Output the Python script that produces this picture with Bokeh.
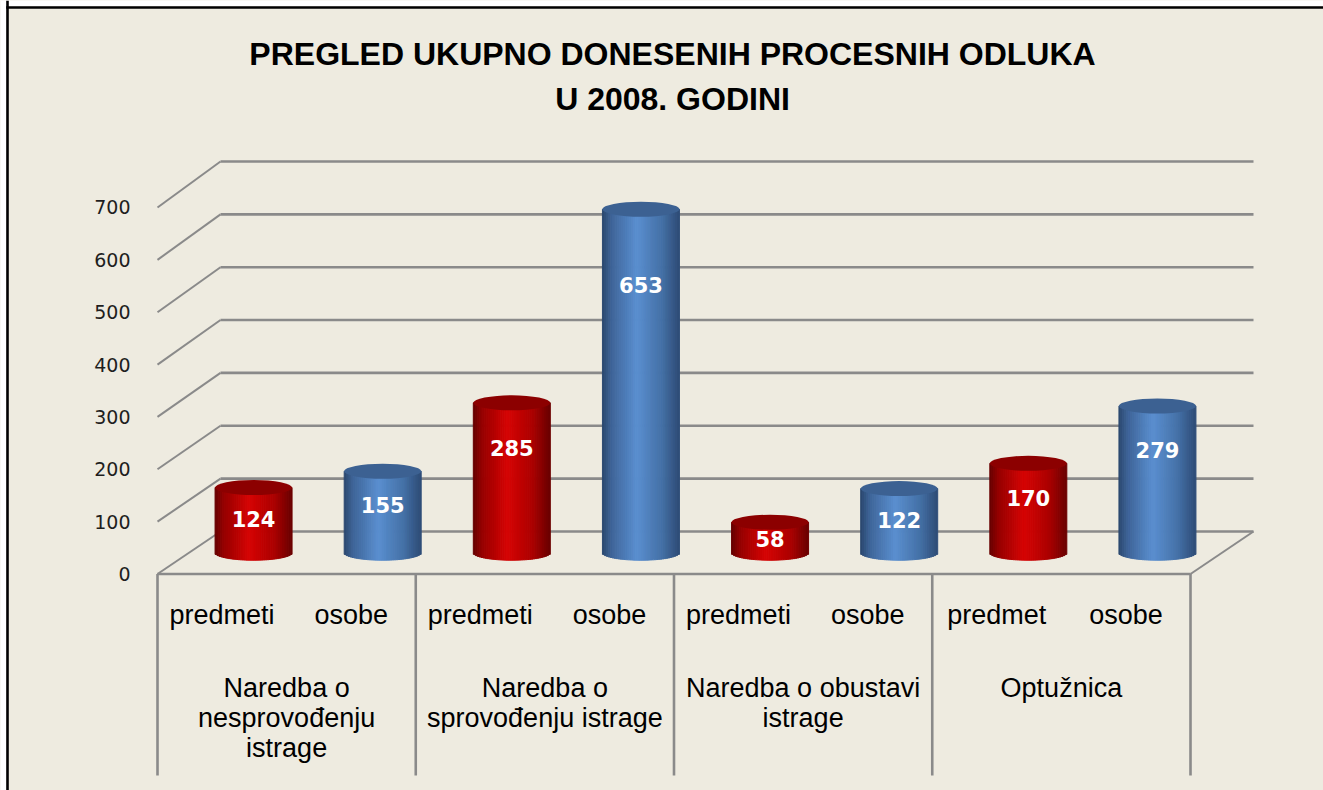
import numpy as np
from bokeh.plotting import figure
from bokeh.models import Range1d
from bokeh.core.properties import value
from bokeh.embed import file_html
from bokeh.resources import INLINE

# ---------------- data ----------------
title_lines = ["PREGLED UKUPNO DONESENIH PROCESNIH ODLUKA", "U 2008. GODINI"]
groups = ["Naredba o\nnesprovođenju\nistrage",
          "Naredba o\nsprovođenju istrage",
          "Naredba o obustavi\nistrage",
          "Optužnica"]
sub_labels = [["predmeti", "osobe"], ["predmeti", "osobe"],
              ["predmeti", "osobe"], ["predmet", "osobe"]]
predmeti = [124, 285, 58, 170]
osobe = [155, 653, 122, 279]
y_ticks = [0, 100, 200, 300, 400, 500, 600, 700]

# ---------------- geometry / style ----------------
BG = "#EEEBE0"
GRID = "#8A8A8A"
WIDTH, HEIGHT = 1323, 790
PX_X = 258.25          # pixels per category unit
PX_Y = 0.5236          # pixels per value unit
X_ORG = 157            # pixel of category position 0
Y_ORG = 573.5          # pixel of value 0 (front plane)
DX = 63 / PX_X         # depth offset (x units)


def cx_px(px):
    return (px - X_ORG) / PX_X


def vy_px(py):
    return (Y_ORG - py) / PX_Y


def back(v):           # value on the back wall, in front-plane units
    return 81.2 + 1.0095 * np.asarray(v, dtype=float)


def mid(v):            # value at mid depth
    return (np.asarray(v, dtype=float) + back(v)) / 2.0


x0, x1 = cx_px(0), cx_px(WIDTH)
y0, y1 = vy_px(HEIGHT), vy_px(0)

p = figure(width=WIDTH, height=HEIGHT, x_range=Range1d(x0, x1), y_range=Range1d(y0, y1),
           output_backend="svg", toolbar_location=None, x_axis_type=None, y_axis_type=None,
           min_border=0, title_location=None)
p.background_fill_color = BG
p.border_fill_color = BG
p.outline_line_color = None
p.grid.visible = False

# white page edge and black frame edges (top / left)
p.quad(left=[x0, x0], right=[cx_px(5.8), x1], bottom=[y0, vy_px(5.8)], top=[y1, y1],
       fill_color="white", line_color=None)
p.segment(x0=[cx_px(7), cx_px(5.8)], y0=[y1, vy_px(7)], x1=[cx_px(7), x1], y1=[y0, vy_px(7)],
          line_color="black", line_width=2.6)

# back wall gridlines and left diagonals
ticks = np.array(y_ticks, dtype=float)
n = len(ticks)
p.segment(x0=[DX] * n, y0=back(ticks), x1=[4 + DX] * n, y1=back(ticks),
          line_color=GRID, line_width=2.6)
p.segment(x0=[0] * n, y0=ticks, x1=[DX] * n, y1=back(ticks), line_color=GRID, line_width=2)
# floor front edge and right diagonal
p.segment(x0=[0], y0=[0], x1=[4], y1=[0], line_color=GRID, line_width=2.6)
p.segment(x0=[4], y0=[0], x1=[4 + DX], y1=[back(0)], line_color=GRID, line_width=2)
# category dividers below the floor
div_bottom = vy_px(775)
p.segment(x0=list(range(5)), y0=[0] * 5, x1=list(range(5)), y1=[div_bottom] * 5,
          line_color=GRID, line_width=2.6)

# y tick labels
p.text(x=[cx_px(130)] * n, y=ticks, text=[str(t) for t in y_ticks],
       text_align="right", text_baseline="middle", text_color="#1e1e1e",
       text_font=value("DejaVu Sans"), text_font_size="19px")

# ---------------- cylinders ----------------
red_stops = [(0.0, (100, 0, 0)), (0.12, (150, 0, 0)), (0.45, (214, 4, 4)),
             (0.78, (170, 0, 0)), (1.0, (105, 0, 0))]
blue_stops = [(0.0, (42, 70, 108)), (0.12, (62, 100, 152)), (0.45, (90, 143, 208)),
              (0.78, (68, 112, 166)), (1.0, (46, 76, 118))]
red_top = "#8C0000"
blue_top = "#3C6192"


def grad(stops, t):
    for (ta, ca), (tb, cb) in zip(stops[:-1], stops[1:]):
        if ta <= t <= tb:
            f = (t - ta) / (tb - ta)
            c = [int(round(a + (b - a) * f)) for a, b in zip(ca, cb)]
            return "#%02x%02x%02x" % tuple(c)
    return "#%02x%02x%02x" % stops[-1][1]


W = 77 / PX_X
EH = 15 / PX_Y
NS = 40

lab_x, lab_y, lab_t = [], [], []
for i in range(4):
    for j, (vals, stops, topc) in enumerate([(predmeti, red_stops, red_top),
                                             (osobe, blue_stops, blue_top)]):
        v = vals[i]
        cx = i + 0.25 + 0.5 * j + DX / 2
        base = float(mid(0))
        topv = float(mid(v))
        edges = cx - W / 2 + W * np.arange(NS + 1) / NS
        lefts, rights, bottoms, tops, cols = [], [], [], [], []
        for k in range(NS):
            xm = (edges[k] + edges[k + 1]) / 2
            u = (xm - cx) / (W / 2)
            lefts.append(edges[k])
            rights.append(edges[k + 1])
            bottoms.append(base - (EH / 2) * np.sqrt(max(0.0, 1 - u * u)))
            tops.append(topv)
            cols.append(grad(stops, (k + 0.5) / NS))
        p.quad(left=lefts, right=rights, bottom=bottoms, top=tops,
               fill_color=cols, line_color=cols, line_width=1)
        p.ellipse(x=[cx], y=[topv], width=[W], height=[EH], fill_color=topc, line_color=None)
        off = min(0.55 * v, 40 + 0.16 * v)
        lab_x.append(cx)
        lab_y.append(topv - off)
        lab_t.append(str(v))

p.text(x=lab_x, y=lab_y, text=lab_t, text_align="center", text_baseline="middle",
       text_color="white", text_font=value("DejaVu Sans"), text_font_style="bold",
       text_font_size="21px")

# ---------------- category labels ----------------
sx, sy, st = [], [], []
for i in range(4):
    for j in range(2):
        sx.append(i + 0.25 + 0.5 * j)
        sy.append(vy_px(614))
        st.append(sub_labels[i][j])
p.text(x=sx, y=sy, text=st, text_align="center", text_baseline="middle",
       text_color="black", text_font=value("Liberation Sans"), text_font_size="27px")

gx, gy, gt = [], [], []
for i, g in enumerate(groups):
    for k, line in enumerate(g.split("\n")):
        gx.append(i + 0.5)
        gy.append(vy_px(687 + 30 * k))
        gt.append(line)
p.text(x=gx, y=gy, text=gt, text_align="center", text_baseline="middle",
       text_color="black", text_font=value("Liberation Sans"), text_font_size="27px")

# ---------------- title ----------------
p.text(x=[cx_px(672), cx_px(672)], y=[vy_px(53), vy_px(98)], text=title_lines,
       text_align="center", text_baseline="middle", text_color="black",
       text_font=value("Liberation Sans"), text_font_style="bold",
       text_font_size="32px")

open("out.html", "w").write(file_html(p, INLINE))
